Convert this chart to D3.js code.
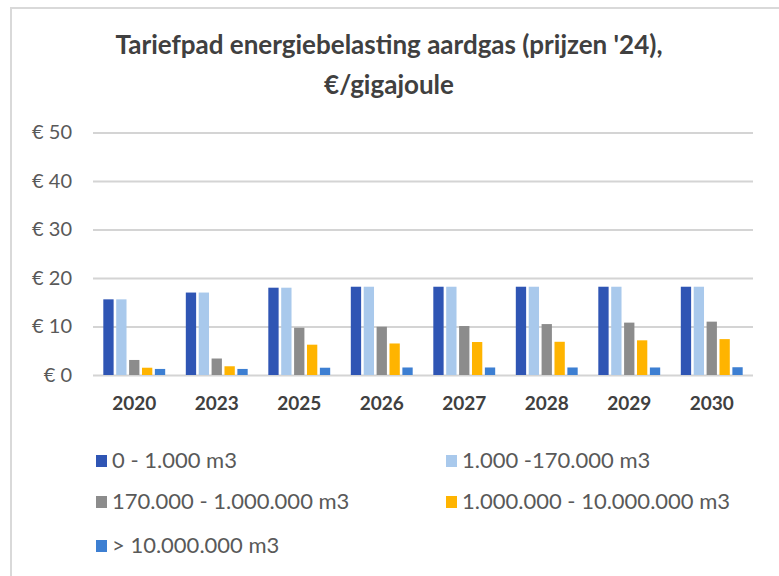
<!DOCTYPE html>
<html>
<head>
<meta charset="utf-8">
<script src="https://cdn.jsdelivr.net/npm/d3@7"></script>
<style>
  body { margin: 0; background: #fff; }
  svg { display: block; }
  text { font-family: Lato, sans-serif; }
</style>
</head>
<body>
<div id="chart"></div>
<script>
const years = ["2020", "2023", "2025", "2026", "2027", "2028", "2029", "2030"];
const seriesNames = ["0 - 1.000 m3", "1.000 -170.000 m3", "170.000 - 1.000.000 m3", "1.000.000 - 10.000.000 m3", "> 10.000.000 m3"];
const band1 = [15.6, 17.0, 18.0, 18.2, 18.2, 18.2, 18.2, 18.2];
const band2 = [15.6, 17.0, 18.0, 18.2, 18.2, 18.2, 18.2, 18.2];
const band3 = [3.1, 3.4, 9.75, 9.95, 10.1, 10.5, 10.8, 11.0];
const band4 = [1.5, 1.8, 6.25, 6.5, 6.8, 6.85, 7.15, 7.4];
const band5 = [1.25, 1.25, 1.5, 1.55, 1.55, 1.55, 1.55, 1.6];
const yTicks = [0, 10, 20, 30, 40, 50];
const colors = ["#2f55b4", "#a9c9ec", "#8c8c8c", "#ffb400", "#3d7fd2"];

const W = 779, H = 576;
const margin = {top: 132.5, right: 26, bottom: 201, left: 93};
const plotW = W - margin.left - margin.right;
const plotH = H - margin.top - margin.bottom;

const svg = d3.select("#chart").append("svg")
  .attr("width", W)
  .attr("height", H);

// outer frame
svg.append("rect")
  .attr("x", 11).attr("y", 8)
  .attr("width", W + 10).attr("height", H + 10)
  .attr("fill", "none")
  .attr("stroke", "#d9d9d9")
  .attr("stroke-width", 2);

// title
const title = svg.append("text")
  .attr("text-anchor", "middle")
  .attr("fill", "#404040")
  .style("font-weight", "bold")
  .style("font-size", "26px");
title.append("tspan").attr("x", 389).attr("y", 54).text("Tariefpad energiebelasting aardgas (prijzen '24),");
title.append("tspan").attr("x", 389).attr("y", 94).text("€/gigajoule");

const g = svg.append("g")
  .attr("transform", `translate(${margin.left}, ${margin.top})`);

const x0 = d3.scaleBand().domain(years).range([0, plotW]).paddingInner(0.25).paddingOuter(0.125);
const x1 = d3.scaleBand().domain(d3.range(5)).range([0, x0.bandwidth()]).paddingInner(0.2);
const y = d3.scaleLinear().domain([0, 50]).range([plotH, 0]);

// gridlines + y labels
const yAxis = d3.axisLeft(y).tickValues(yTicks).tickSize(-plotW).tickPadding(21)
  .tickFormat(d => "€ " + d);
g.append("g")
  .call(yAxis)
  .call(a => a.select(".domain").remove())
  .call(a => a.selectAll("line").attr("stroke", "#d4d4d4").attr("stroke-width", 2))
  .call(a => a.selectAll("text").attr("fill", "#595959").style("font-size", "20px").style("font-family", "Lato, sans-serif"));

const series = [band1, band2, band3, band4, band5];
const groups = g.selectAll(".grp")
  .data(years)
  .enter().append("g")
  .attr("class", "grp")
  .attr("transform", d => `translate(${x0(d)}, 0)`);

groups.selectAll("rect")
  .data((yr, i) => series.map((s, k) => ({k: k, v: s[i]})))
  .enter().append("rect")
  .attr("x", d => x1(d.k))
  .attr("y", d => y(d.v))
  .attr("width", x1.bandwidth())
  .attr("height", d => y(0) - y(d.v))
  .attr("fill", d => colors[d.k]);

// x axis labels
const xAxis = d3.axisBottom(x0).tickSize(0).tickPadding(22);
g.append("g")
  .attr("transform", `translate(0, ${plotH})`)
  .call(xAxis)
  .call(a => a.select(".domain").remove())
  .call(a => a.selectAll("text").attr("fill", "#404040").style("font-size", "19px").style("font-weight", "bold").style("font-family", "Lato, sans-serif"));

// legend
const legendPos = [[96, 461], [446, 461], [96, 502], [446, 502], [96, 546]];
const legend = svg.selectAll(".leg")
  .data(seriesNames)
  .enter().append("g")
  .attr("class", "leg")
  .attr("transform", (d, i) => `translate(${legendPos[i][0]}, ${legendPos[i][1]})`);
legend.append("rect")
  .attr("x", 0).attr("y", -6)
  .attr("width", 11).attr("height", 12)
  .attr("fill", (d, i) => colors[i]);
legend.append("text")
  .attr("x", 16).attr("y", 7)
  .attr("fill", "#595959")
  .style("font-size", "22px")
  .text(d => d);
</script>
</body>
</html>
